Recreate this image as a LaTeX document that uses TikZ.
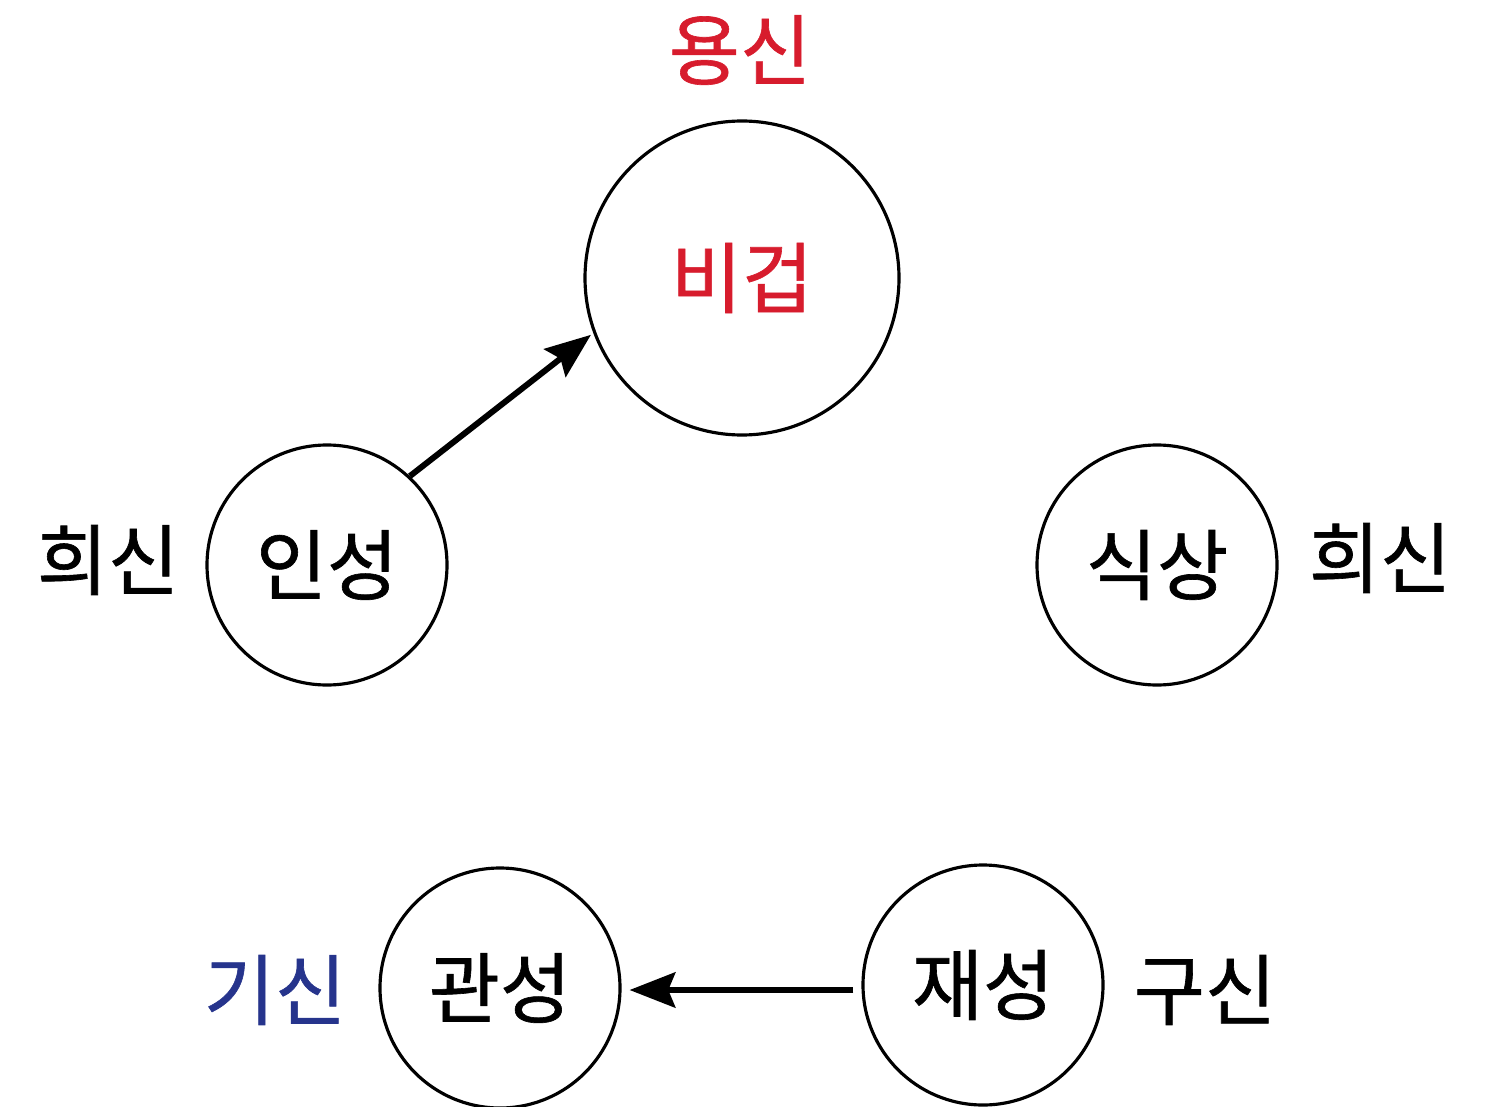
\documentclass[tikz,border=0pt]{standalone}
\usepackage{fontspec}
\setmainfont{Noto Sans CJK KR}
\newfontfamily\hangulfont[FakeBold=0.8]{Noto Sans CJK KR}
\usetikzlibrary{arrows.meta}
\definecolor{yongred}{RGB}{215,28,45}
\definecolor{gishinblue}{RGB}{38,52,140}

\begin{document}
\begin{tikzpicture}[
    sipsin/.style={draw, circle, line width=0.9pt, minimum size=2.4cm, inner sep=0pt},
    bigsin/.style={sipsin, minimum size=3.14cm},
    word/.style={font=\hangulfont\fontsize{22}{26}\selectfont},
    flow/.style={line width=1.7pt, -{Stealth[length=13pt,width=10pt,inset=2pt]}}
  ]
    \useasboundingbox (0,0) rectangle (14.96,-11.06);

    % Bigeop at the top
    \node[bigsin, word, text=yongred] (bigeop) at (7.42,-2.78) {비겁};
    \node[word, text=yongred] (yongsin) at (7.40,-0.50) {용신};

    % Inseong and Siksang
    \node[sipsin, word] (inseong) at (3.27,-5.65) {인성};
    \node[word] (huisinL) at (1.08,-5.60) {희신};
    \node[sipsin, word] (siksang) at (11.57,-5.65) {식상};
    \node[word] (huisinR) at (13.80,-5.58) {희신};

    % Gwanseong and Jaeseong
    \node[sipsin, word] (gwanseong) at (5.00,-9.88) {관성};
    \node[word, text=gishinblue] (gisin) at (2.75,-9.90) {기신};
    \node[sipsin, word] (jaeseong) at (9.83,-9.85) {재성};
    \node[word] (gusin) at (12.05,-9.90) {구신};

    % Arrows
    \draw[flow] (inseong.47) -- ([shift={(-0.03,0)}]bigeop.201);
    \draw[flow] ([xshift=-0.08cm]jaeseong.west |- 0,-9.90) -- ([xshift=0.08cm]gwanseong.east |- 0,-9.90);

\end{tikzpicture}
\end{document}
